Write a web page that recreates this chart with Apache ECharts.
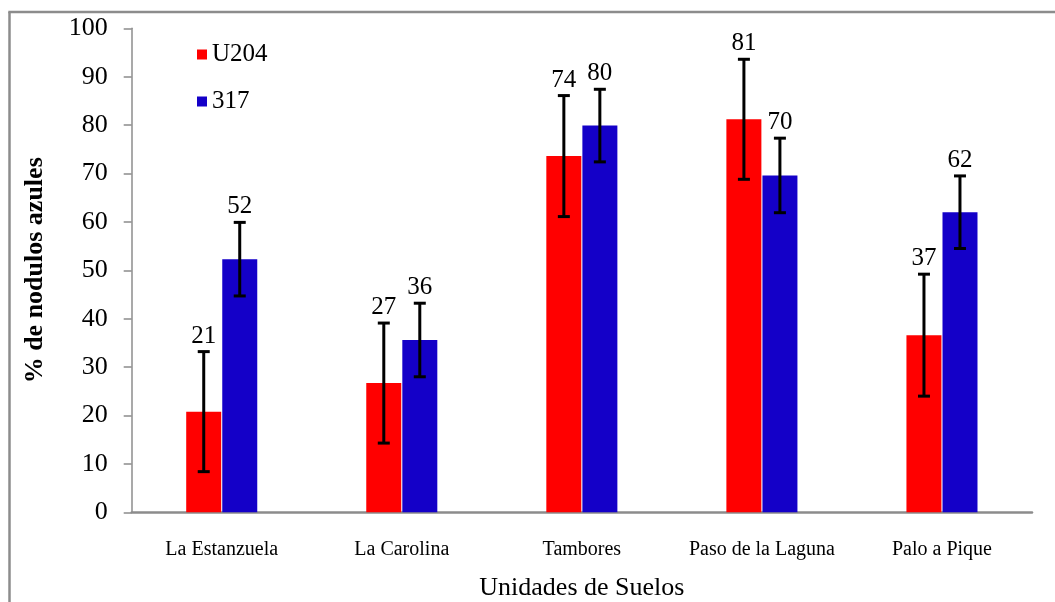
<!DOCTYPE html>
<html>
<head>
<meta charset="utf-8">
<style>
  html, body { margin: 0; padding: 0; background: #ffffff; }
  #chart { width: 1055px; height: 602px; }
</style>
<script src="https://cdn.jsdelivr.net/npm/echarts@6/dist/echarts.min.js"></script>
</head>
<body>
<div id="chart"></div>
<script>
// Soil units on the category axis
const categories = ['La Estanzuela', 'La Carolina', 'Tambores', 'Paso de la Laguna', 'Palo a Pique'];
// Series names
const seriesNames = ['U204', '317'];
// Mean % of blue nodules per strain
const valuesU204 = [20.8, 26.7, 73.6, 81.2, 36.6];
const values317 = [52.3, 35.6, 79.9, 69.6, 62.0];
// Error half-widths
const errU204 = [12.4, 12.4, 12.5, 12.4, 12.6];
const err317 = [7.6, 7.6, 7.5, 7.7, 7.5];
// Y axis tick values
const yTicks = [0, 10, 20, 30, 40, 50, 60, 70, 80, 90, 100];

const FONT = '"Liberation Serif", "DejaVu Serif", serif';
const BAR_W = 35;
const BAR_OFFSET = 18; // half bar width plus half the gap between paired bars
const GRAY = '#8c8c8c';

function errorSeries(name, values, errs, side) {
  return {
    type: 'custom',
    name: name,
    z: 5,
    data: values.map((v, i) => [i, v, errs[i]]),
    encode: { x: 0, y: 1 },
    renderItem: function (params, api) {
      const idx = api.value(0);
      const v = api.value(1);
      const e = api.value(2);
      const hi = api.coord([idx, v + e]);
      const lo = api.coord([idx, v - e]);
      const x = hi[0] + side * BAR_OFFSET;
      const cap = 6;
      const st = { stroke: '#000', lineWidth: 3 };
      return {
        type: 'group',
        children: [
          { type: 'line', shape: { x1: x, y1: hi[1], x2: x, y2: lo[1] }, style: st },
          { type: 'line', shape: { x1: x - cap, y1: hi[1], x2: x + cap, y2: hi[1] }, style: st },
          { type: 'line', shape: { x1: x - cap, y1: lo[1], x2: x + cap, y2: lo[1] }, style: st },
          {
            type: 'text',
            style: {
              x: x, y: hi[1] - 3,
              text: String(Math.round(v)),
              align: 'center', verticalAlign: 'bottom',
              font: '25px ' + FONT, fill: '#000'
            }
          }
        ]
      };
    }
  };
}

const chart = echarts.init(document.getElementById('chart'), null, { renderer: 'canvas' });
chart.setOption({
  animation: false,
  backgroundColor: '#ffffff',
  grid: {
    left: 131.7, right: 23, top: 28.3, bottom: 89.7,
    containLabel: false,
    outerBoundsMode: 'none'
  },
  legend: {
    data: seriesNames,
    orient: 'vertical',
    left: 192,
    top: 37,
    itemWidth: 10,
    itemHeight: 10,
    itemGap: 22,
    icon: 'rect',
    textStyle: { fontFamily: FONT, fontSize: 25, color: '#000' }
  },
  xAxis: {
    type: 'category',
    data: categories,
    axisTick: { show: false },
    axisLine: { lineStyle: { color: GRAY, width: 2.5 } },
    axisLabel: { fontFamily: FONT, fontSize: 20, color: '#000', margin: 27, interval: 0 },
    name: 'Unidades de Suelos',
    nameLocation: 'middle',
    nameGap: 63,
    nameTextStyle: { fontFamily: FONT, fontSize: 26, color: '#000' }
  },
  yAxis: {
    type: 'value',
    min: yTicks[0],
    max: yTicks[yTicks.length - 1],
    interval: yTicks[1] - yTicks[0],
    splitLine: { show: false },
    axisLine: { show: true, lineStyle: { color: GRAY, width: 1.5 } },
    axisTick: { show: true, length: 8, lineStyle: { color: GRAY, width: 1.5 } },
    axisLabel: { fontFamily: FONT, fontSize: 26, color: '#000', margin: 24 },
    name: '% de nodulos azules',
    nameLocation: 'middle',
    nameRotate: 90,
    nameGap: 83,
    nameTextStyle: { fontFamily: FONT, fontSize: 26, fontWeight: 'bold', color: '#000' }
  },
  series: [
    {
      type: 'bar', name: seriesNames[0], data: valuesU204,
      barWidth: BAR_W, barGap: '3%',
      itemStyle: { color: '#ff0000' }
    },
    {
      type: 'bar', name: seriesNames[1], data: values317,
      barWidth: BAR_W, barGap: '3%',
      itemStyle: { color: '#1400c8' }
    },
    errorSeries('errU204', valuesU204, errU204, -1),
    errorSeries('err317', values317, err317, 1)
  ],
  graphic: [
    { type: 'line', shape: { x1: 9.5, y1: 12, x2: 9.5, y2: 602 }, style: { stroke: GRAY, lineWidth: 2.5 } },
    { type: 'line', shape: { x1: 8.3, y1: 12, x2: 1055, y2: 12 }, style: { stroke: GRAY, lineWidth: 2.5 } }
  ]
});
</script>
</body>
</html>
